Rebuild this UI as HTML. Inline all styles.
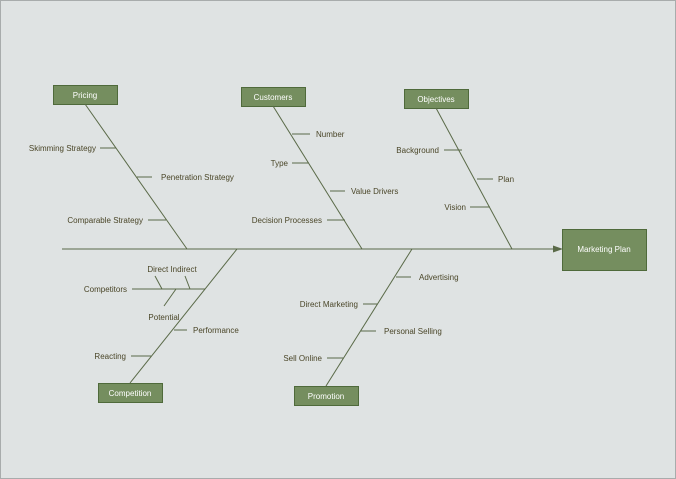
<!DOCTYPE html>
<html><head><meta charset="utf-8"><style>
html,body{margin:0;padding:0;background:#dfe3e3;}
svg{display:block}
text{font-family:"Liberation Sans",sans-serif;font-size:8px;fill:#4a4628;}
.b{fill:#758e5f;stroke:#4f6a3b;stroke-width:1}
.bt{fill:#ffffff;text-anchor:middle;font-size:8px}
line{stroke:#5a6a48;stroke-width:1}
</style></head><body>
<svg width="676" height="479" viewBox="0 0 676 479">
<rect x="0.5" y="0.5" width="675" height="478" fill="#dfe3e3" stroke="#a8acac"/>
<!-- spine -->
<line x1="62" y1="249" x2="555" y2="249"/>
<polygon points="563,249 553,245.5 553,252.5" fill="#5a6a48"/>
<rect class="b" x="562.5" y="229.5" width="84" height="41"/>
<text class="bt" x="604" y="252">Marketing Plan</text>
<!-- Pricing -->
<rect class="b" x="53.5" y="85.5" width="64" height="19"/>
<text class="bt" x="85" y="98">Pricing</text>
<line x1="85" y1="104" x2="187" y2="249"/>
<line x1="100" y1="148" x2="116" y2="148"/><text x="96" y="151" text-anchor="end">Skimming Strategy</text>
<line x1="137" y1="177" x2="152" y2="177"/><text x="161" y="180">Penetration Strategy</text>
<line x1="148" y1="220" x2="166" y2="220"/><text x="143" y="223" text-anchor="end">Comparable Strategy</text>
<!-- Customers -->
<rect class="b" x="241.5" y="87.5" width="64" height="19"/>
<text class="bt" x="273" y="100">Customers</text>
<line x1="273" y1="106" x2="362" y2="249"/>
<line x1="292" y1="134" x2="310" y2="134"/><text x="316" y="137">Number</text>
<line x1="292" y1="163" x2="309" y2="163"/><text x="288" y="166" text-anchor="end">Type</text>
<line x1="330" y1="191" x2="345" y2="191"/><text x="351" y="194">Value Drivers</text>
<line x1="327" y1="220" x2="345" y2="220"/><text x="322" y="223" text-anchor="end">Decision Processes</text>
<!-- Objectives -->
<rect class="b" x="404.5" y="89.5" width="64" height="19"/>
<text class="bt" x="436" y="102">Objectives</text>
<line x1="436" y1="108" x2="512" y2="249"/>
<line x1="444" y1="150" x2="462" y2="150"/><text x="439" y="153" text-anchor="end">Background</text>
<line x1="477" y1="179" x2="493" y2="179"/><text x="498" y="182">Plan</text>
<line x1="470" y1="207" x2="490" y2="207"/><text x="466" y="210" text-anchor="end">Vision</text>
<!-- Competition -->
<rect class="b" x="98.5" y="383.5" width="64" height="19"/>
<text class="bt" x="130" y="396">Competition</text>
<line x1="130" y1="383" x2="237" y2="249"/>
<line x1="132" y1="289" x2="205" y2="289"/><text x="127" y="292" text-anchor="end">Competitors</text>
<line x1="155" y1="276" x2="162" y2="289"/>
<line x1="185" y1="276" x2="190" y2="289"/>
<text x="172" y="272" text-anchor="middle">Direct Indirect</text>
<line x1="176" y1="289" x2="164" y2="306"/>
<text x="164" y="320" text-anchor="middle">Potential</text>
<line x1="174" y1="330" x2="187" y2="330"/><text x="193" y="333">Performance</text>
<line x1="131" y1="356" x2="151" y2="356"/><text x="126" y="359" text-anchor="end">Reacting</text>
<!-- Promotion -->
<rect class="b" x="294.5" y="386.5" width="64" height="19"/>
<text class="bt" x="326" y="399">Promotion</text>
<line x1="326" y1="386" x2="412" y2="249"/>
<line x1="396" y1="277" x2="411" y2="277"/><text x="419" y="280">Advertising</text>
<line x1="363" y1="304" x2="378" y2="304"/><text x="358" y="307" text-anchor="end">Direct Marketing</text>
<line x1="361" y1="331" x2="376" y2="331"/><text x="384" y="334">Personal Selling</text>
<line x1="327" y1="358" x2="344" y2="358"/><text x="322" y="361" text-anchor="end">Sell Online</text>
</svg>
</body></html>
